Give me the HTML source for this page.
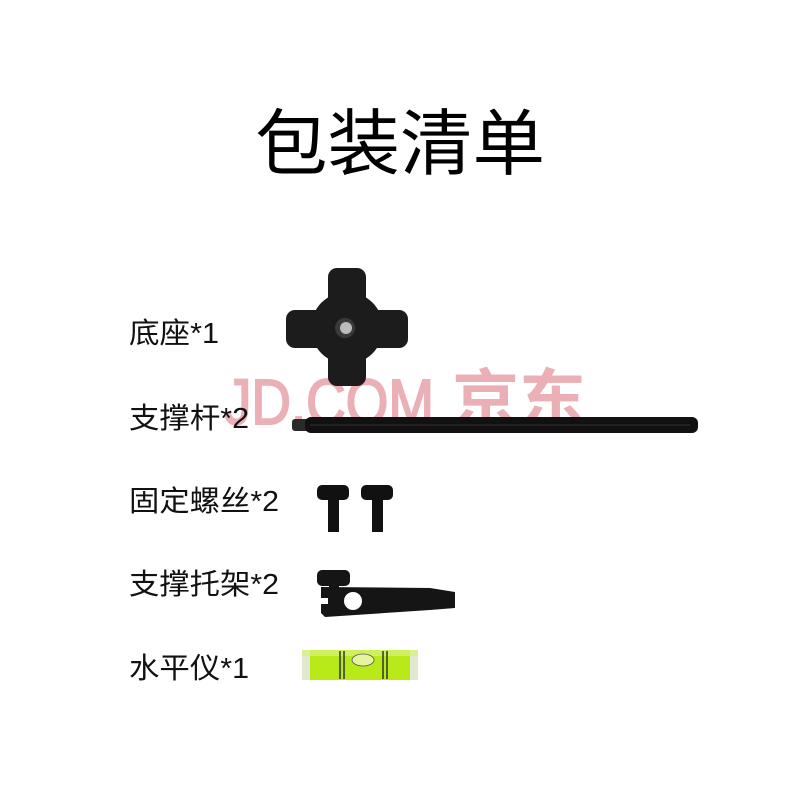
<!DOCTYPE html>
<html><head><meta charset="utf-8"><style>
html,body{margin:0;padding:0;background:#fff;}
svg{display:block;}
</style></head><body>
<svg width="800" height="800" viewBox="0 0 800 800" xmlns="http://www.w3.org/2000/svg">
<rect width="800" height="800" fill="#fff"/>
<text x="400" y="169" text-anchor="middle" font-family="'Noto Sans CJK SC',sans-serif" font-size="72" fill="#000" textLength="290" lengthAdjust="spacingAndGlyphs">包装清单</text>
<!-- watermark -->
<text x="224" y="424" font-family="'Liberation Sans',sans-serif" font-size="64" fill="#eab0b6" stroke="#eab0b6" stroke-width="2" textLength="210" lengthAdjust="spacingAndGlyphs">JD.COM</text>
<text x="452" y="422" font-family="'Noto Sans CJK SC',sans-serif" font-size="64" font-weight="bold" fill="#eab0b6" textLength="134" lengthAdjust="spacingAndGlyphs">京东</text>
<g font-family="'Liberation Sans','Noto Sans CJK SC',sans-serif" font-size="29" fill="#111">
<text x="129" y="343" textLength="90" lengthAdjust="spacingAndGlyphs">底座*1</text>
<text x="129" y="428" textLength="120" lengthAdjust="spacingAndGlyphs">支撑杆*2</text>
<text x="129" y="511" textLength="150" lengthAdjust="spacingAndGlyphs">固定螺丝*2</text>
<text x="129" y="594" textLength="150" lengthAdjust="spacingAndGlyphs">支撑托架*2</text>
<text x="129" y="678" textLength="120" lengthAdjust="spacingAndGlyphs">水平仪*1</text>
</g>
<!-- knob -->
<g fill="#1c1c1c">
<rect x="286" y="310" width="122" height="38" rx="9"/>
<rect x="328" y="268" width="38" height="118" rx="9"/>
<circle cx="347" cy="328" r="36"/>
</g>
<circle cx="345" cy="328" r="10" fill="#3a3a3a"/>
<circle cx="346" cy="328" r="6" fill="#bbb"/>
<!-- rod -->
<rect x="292" y="419" width="18" height="12" rx="3" fill="#2a2a2a"/>
<rect x="305" y="417" width="393" height="16" rx="6" fill="#111"/>
<line x1="310" y1="425" x2="690" y2="425" stroke="#333" stroke-width="1"/>
<!-- screws -->
<g fill="#111">
<rect x="317" y="485" width="32" height="15" rx="5"/>
<rect x="328" y="498" width="11" height="34"/>
<rect x="361" y="485" width="32" height="15" rx="5"/>
<rect x="372" y="498" width="11" height="34"/>
</g>
<!-- bracket -->
<g fill="#151515">
<rect x="317" y="570" width="33" height="16" rx="5"/>
<rect x="329" y="584" width="10" height="18"/>
<path d="M321 587 L430 588 L455 592 L455 608 L430 610 L325 617 L321 613 L321 604 L328 604 L328 598 L321 598 Z"/>
</g>
<circle cx="353" cy="601" r="9" fill="#fff"/>
<!-- level -->
<rect x="302" y="650" width="116" height="30" rx="3" fill="#b8ea1a"/>
<rect x="302" y="650" width="8" height="30" fill="#dfe8d0"/>
<rect x="410" y="650" width="8" height="30" fill="#dfe8d0"/>
<rect x="302" y="650" width="116" height="6" fill="#d8f27a" opacity="0.7"/>
<line x1="340" y1="651" x2="340" y2="679" stroke="#333" stroke-width="1.5"/>
<line x1="344" y1="651" x2="344" y2="679" stroke="#333" stroke-width="1.5"/>
<line x1="383" y1="651" x2="383" y2="679" stroke="#333" stroke-width="1.5"/>
<line x1="387" y1="651" x2="387" y2="679" stroke="#333" stroke-width="1.5"/>
<ellipse cx="363" cy="660" rx="11" ry="6" fill="#e6f4a0" stroke="#556" stroke-width="0.8"/>
</svg>
</body></html>
